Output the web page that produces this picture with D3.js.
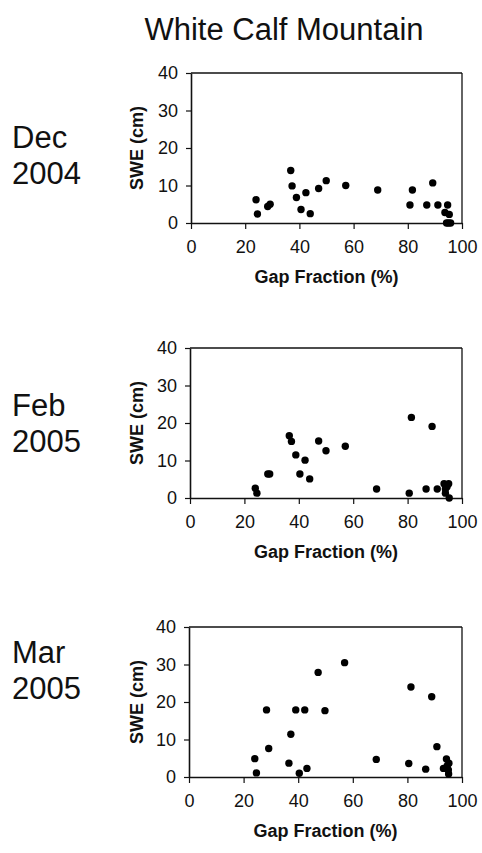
<!DOCTYPE html>
<html>
<head>
<meta charset="utf-8">
<script src="https://cdn.jsdelivr.net/npm/d3@7"></script>
<style>
  html, body { margin: 0; padding: 0; background: #fff; }
  svg { display: block; font-family: "Liberation Sans", Arial, Helvetica, sans-serif; }
</style>
</head>
<body>
<svg id="chart" width="482" height="853"></svg>
<script>
const title = "White Calf Mountain";
const panelMonths = ["Dec", "Feb", "Mar"];
const panelYears = ["2004", "2005", "2005"];
const xTicks = [0, 20, 40, 60, 80, 100];
const yTicks = [0, 10, 20, 30, 40];
const xLabel = "Gap Fraction (%)";
const yLabel = "SWE (cm)";

// Dec 2004
const decGap = [24.0, 24.5, 28.3, 29.2, 36.8, 37.3, 38.9, 40.6, 42.4, 44.0, 47.1, 49.9, 57.1, 68.9, 80.8, 81.7, 87.0, 89.2, 91.1, 94.7, 93.7, 95.3, 94.3, 95.8, 95.0];
const decSwe = [6.2, 2.4, 4.4, 5.0, 14.0, 9.9, 6.8, 3.6, 8.1, 2.5, 9.2, 11.3, 10.0, 8.8, 4.8, 8.8, 4.8, 10.7, 4.8, 4.8, 2.8, 2.3, 0.0, 0.0, 0.0];
// Feb 2005
const febGap = [24.0, 24.6, 28.6, 29.3, 36.5, 37.3, 38.9, 40.4, 42.3, 44.0, 47.3, 50.0, 57.1, 68.6, 80.6, 81.4, 86.8, 89.0, 90.9, 93.4, 95.1, 93.9, 93.9, 95.3, 94.5];
const febSwe = [2.6, 1.3, 6.4, 6.4, 16.6, 15.1, 11.5, 6.4, 10.1, 5.1, 15.2, 12.6, 13.8, 2.4, 1.3, 21.5, 2.4, 19.1, 2.4, 3.8, 3.8, 2.4, 1.3, 0.0, 3.0];
// Mar 2005
const marGap = [57.0, 47.3, 81.3, 88.9, 28.4, 39.1, 42.4, 49.8, 37.3, 29.2, 24.1, 24.7, 36.6, 40.4, 43.2, 68.6, 80.5, 86.7, 90.8, 94.3, 95.2, 93.2, 95.0, 95.1, 94.6];
const marSwe = [30.5, 27.9, 24.0, 21.4, 17.9, 17.9, 17.9, 17.7, 11.4, 7.6, 4.9, 1.1, 3.7, 1.0, 2.3, 4.7, 3.6, 2.1, 8.1, 4.8, 3.7, 2.3, 1.9, 0.8, 3.0];

const panelGaps = [decGap, febGap, marGap];
const panelSwes = [decSwe, febSwe, marSwe];

const svg = d3.select("#chart");

svg.append("text")
  .attr("x", 284).attr("y", 40)
  .attr("text-anchor", "middle")
  .attr("font-size", 31)
  .attr("fill", "#111")
  .text(title);

const panelTops = [73, 348, 627];
const panelLefts = [191, 190, 189];
const plotRight = 462;
const plotH = 150;
const monthBase = [148, 416, 663];

panelTops.forEach((top, i) => {
  const left = panelLefts[i];
  const x = d3.scaleLinear().domain([0, 100]).range([left, plotRight]);
  const y = d3.scaleLinear().domain([0, 40]).range([top + plotH, top]);
  const g = svg.append("g");

  // month / year label
  g.append("text").attr("x", 12).attr("y", monthBase[i])
    .attr("font-size", 31).attr("fill", "#111").text(panelMonths[i]);
  g.append("text").attr("x", 12).attr("y", monthBase[i] + 36)
    .attr("font-size", 31).attr("fill", "#111").text(panelYears[i]);

  // frame top and right
  g.append("line").attr("x1", left).attr("x2", plotRight)
    .attr("y1", top).attr("y2", top)
    .attr("stroke", "#111").attr("stroke-width", 1.3);
  g.append("line").attr("x1", plotRight).attr("x2", plotRight)
    .attr("y1", top).attr("y2", top + plotH)
    .attr("stroke", "#111").attr("stroke-width", 1.3);

  // x axis
  const xa = g.append("g").attr("transform", `translate(0,${top + plotH})`)
    .call(d3.axisBottom(x).tickValues(xTicks).tickSize(6).tickPadding(11).tickSizeOuter(0));
  xa.select(".domain").attr("stroke", "#111").attr("stroke-width", 1.6);
  xa.selectAll(".tick line").attr("stroke", "#111").attr("stroke-width", 1.2);
  xa.selectAll(".tick text").attr("font-size", 18).attr("fill", "#111")
    .attr("font-family", "'Liberation Sans', Arial, sans-serif");

  // y axis
  const ya = g.append("g").attr("transform", `translate(${left},0)`)
    .call(d3.axisLeft(y).tickValues(yTicks).tickSize(5).tickPadding(8).tickSizeOuter(0));
  ya.select(".domain").attr("stroke", "#111").attr("stroke-width", 1.6);
  ya.selectAll(".tick line").attr("stroke", "#111").attr("stroke-width", 1.2);
  ya.selectAll(".tick text").attr("font-size", 18).attr("fill", "#111")
    .attr("font-family", "'Liberation Sans', Arial, sans-serif");

  // axis titles
  g.append("text")
    .attr("x", (left + plotRight) / 2).attr("y", top + plotH + 60)
    .attr("text-anchor", "middle").attr("font-size", 18).attr("font-weight", "bold")
    .attr("fill", "#111").text(xLabel);
  g.append("text")
    .attr("transform", `translate(${143},${top + plotH / 2}) rotate(-90)`)
    .attr("text-anchor", "middle").attr("font-size", 18).attr("font-weight", "bold")
    .attr("fill", "#111").text(yLabel);

  // points
  const gaps = panelGaps[i], swes = panelSwes[i];
  g.append("g").selectAll("circle")
    .data(d3.range(gaps.length))
    .join("circle")
    .attr("cx", k => x(gaps[k]))
    .attr("cy", k => y(swes[k]))
    .attr("r", 3.7)
    .attr("fill", "#000");
});
</script>
</body>
</html>
